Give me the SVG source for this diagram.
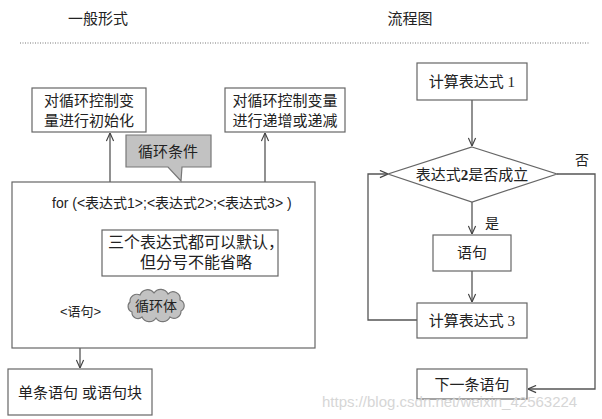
<svg xmlns="http://www.w3.org/2000/svg" width="602" height="419" viewBox="0 0 602 419">
<defs>
<style>
.box{fill:#fff;stroke:#666;stroke-width:1.2}
.ln{fill:none;stroke:#555;stroke-width:1.3}
.sans{font-family:"Liberation Sans","Noto Sans CJK SC",sans-serif;fill:#222}
.serif{font-family:"Liberation Serif","Noto Sans CJK SC",serif;fill:#222}
.gray{fill:#c2c2c2;stroke:#777;stroke-width:1.2}
</style>
<marker id="arr" viewBox="0 0 10 10" refX="10" refY="5" markerWidth="9" markerHeight="9" markerUnits="userSpaceOnUse" orient="auto">
<path d="M1,1 L10,5 L1,9" fill="none" stroke="#444" stroke-width="1.3"/>
</marker>
</defs>
<rect width="602" height="419" fill="#fff"/>

<text class="serif" x="98" y="24" font-size="15" text-anchor="middle">一般形式</text>
<text class="serif" x="410" y="24" font-size="15" text-anchor="middle">流程图</text>
<line x1="20" y1="43" x2="590" y2="43" stroke="#777" stroke-width="1" stroke-dasharray="1,1.5"/>

<g id="connectors">
<line class="ln" x1="110" y1="182" x2="110" y2="133" marker-end="url(#arr)"/>
<line class="ln" x1="265" y1="182" x2="265" y2="133" marker-end="url(#arr)"/>
<line class="ln" x1="80" y1="317" x2="80" y2="368" marker-end="url(#arr)"/>
<path class="ln" d="M102,217 Q102,222 108,222 H179 Q185,222 185,227 Q185,222 191,222 H261 Q267,222 267,217"/>
<line class="ln" x1="472" y1="100" x2="472" y2="146" marker-end="url(#arr)"/>
<line class="ln" x1="472" y1="202" x2="472" y2="234" marker-end="url(#arr)"/>
<line class="ln" x1="472" y1="271" x2="472" y2="302" marker-end="url(#arr)"/>
<polyline class="ln" points="417,320 368,320 368,174 388,174" marker-end="url(#arr)"/>
<polyline class="ln" points="557,174 595,174 595,389 528,389" marker-end="url(#arr)"/>
</g>

<g id="init">
<rect class="box" x="32" y="88" width="114" height="44"/>
<text class="sans" x="89" y="106" font-size="15" text-anchor="middle">对循环控制变</text>
<text class="sans" x="89" y="126" font-size="15" text-anchor="middle">量进行初始化</text>
</g>

<g id="incr">
<rect class="box" x="225" y="88" width="120" height="44"/>
<text class="sans" x="285" y="106" font-size="15" text-anchor="middle">对循环控制变量</text>
<text class="sans" x="285" y="126" font-size="15" text-anchor="middle">进行递增或递减</text>
</g>

<g id="for-box">
<rect class="box" x="12" y="182" width="303" height="166"/>
<text class="sans" x="52" y="208" font-size="14">for (&lt;表达式1&gt;;&lt;表达式2&gt;;&lt;表达式3&gt; )</text>
<text class="sans" x="60" y="316" font-size="13">&lt;语句&gt;</text>
</g>

<g id="cond">
<path class="gray" d="M126,135 H211 V167 H182 L181,181 L168,167 H126 Z"/>
<text class="sans" x="168" y="157" font-size="15" text-anchor="middle">循环条件</text>
</g>

<g id="note">
<rect class="box" x="102" y="230" width="176" height="46"/>
<text class="sans" x="108" y="248" font-size="16">三个表达式都可以默认，</text>
<text class="sans" x="196" y="268" font-size="16" text-anchor="middle">但分号不能省略</text>
</g>

<g id="body">
<path class="gray" d="M132,312 a6,6 0 0 1 -2,-10 a7,7 0 0 1 10,-7 a8,8 0 0 1 14,-2 a8,8 0 0 1 14,1 a7,7 0 0 1 12,6 a6,6 0 0 1 1,11 a7,7 0 0 1 -11,6 a8,8 0 0 1 -14,1 a8,8 0 0 1 -14,-1 a6,6 0 0 1 -10,-5 z"/>
<text class="sans" x="156" y="311" font-size="14" text-anchor="middle">循环体</text>
</g>

<g id="stmt-block">
<rect class="box" x="8" y="369" width="144" height="46"/>
<text class="sans" x="80" y="398" font-size="15" text-anchor="middle">单条语句 或语句块</text>
</g>

<g id="calc1">
<rect class="box" x="417" y="63" width="110" height="37"/>
<text class="serif" x="472" y="87" font-size="15" text-anchor="middle">计算表达式 1</text>
</g>

<g id="decision">
<polygon class="box" points="472,147 557,174 472,202 388,174"/>
<text class="serif" x="472" y="180" font-size="15" text-anchor="middle">表达式<tspan font-weight="bold">2</tspan>是否成立</text>
</g>
<text class="serif" x="582" y="165" font-size="14" text-anchor="middle">否</text>
<text class="serif" x="492" y="228" font-size="14" text-anchor="middle">是</text>

<g id="stmt">
<rect class="box" x="433" y="235" width="78" height="36"/>
<text class="serif" x="472" y="258" font-size="15" text-anchor="middle">语句</text>
</g>

<g id="calc3">
<rect class="box" x="417" y="303" width="110" height="35"/>
<text class="serif" x="472" y="326" font-size="15" text-anchor="middle">计算表达式 3</text>
</g>

<g id="next">
<rect class="box" x="417" y="369" width="110" height="30"/>
<text class="serif" x="472" y="390" font-size="15" text-anchor="middle">下一条语句</text>
</g>

<text x="322" y="407" font-family="'Liberation Sans',sans-serif" font-size="15" fill="#d6d6d6">https://blog.csdn.net/weixin_42563224</text>
</svg>
